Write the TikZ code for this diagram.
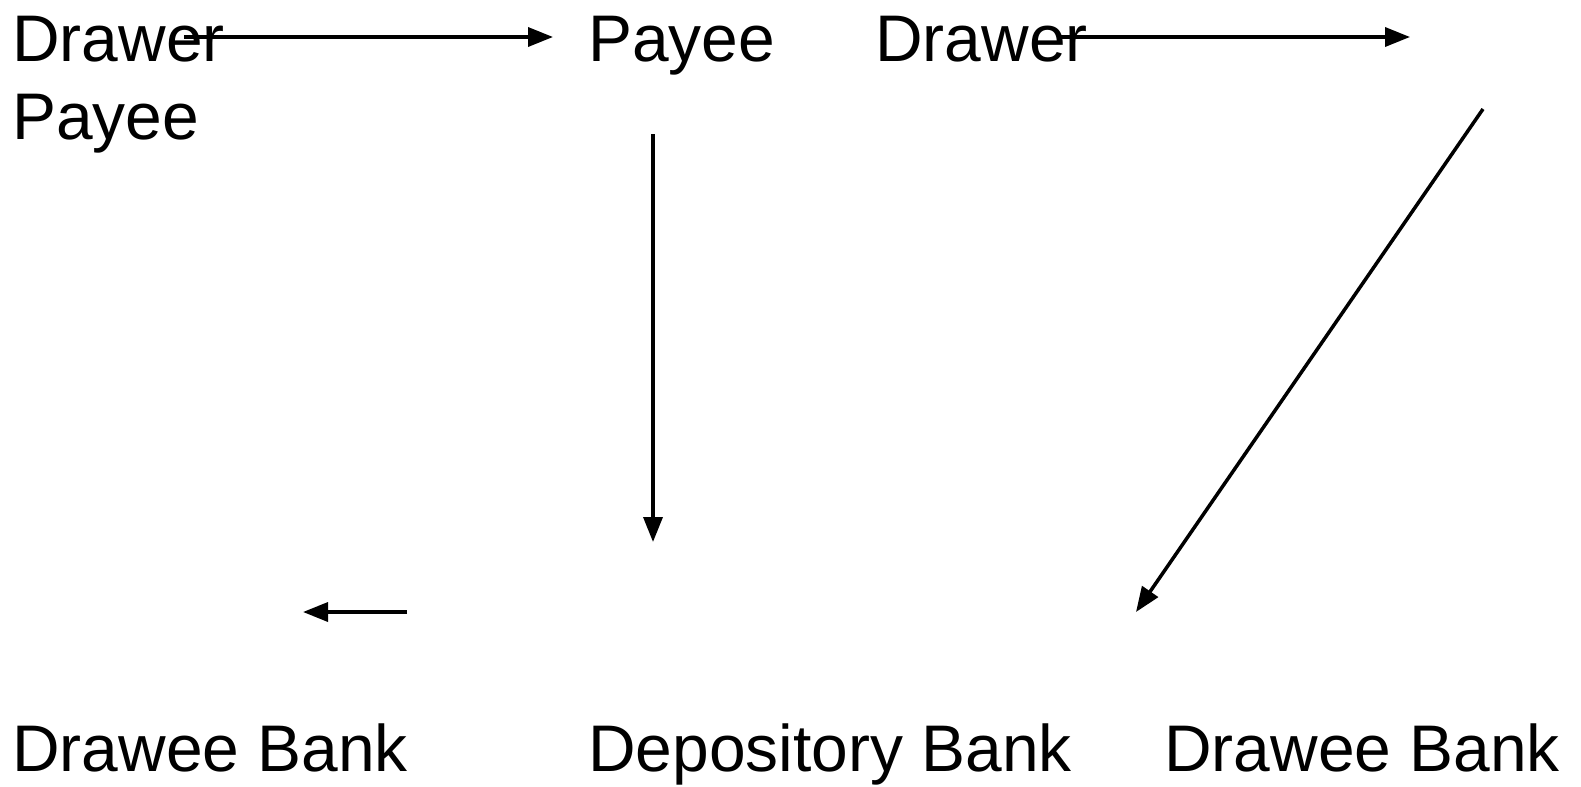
\documentclass[tikz,border=0pt]{standalone}
\usepackage{fontspec}
\setmainfont{Liberation Sans}
\usepackage{tikz}
\usetikzlibrary{arrows.meta}
\tikzset{
  party/.style={inner sep=0pt,anchor=base west,font=\fontsize{37.5}{45}\selectfont},
  flow/.style={-{Triangle[length=5mm,width=3.8mm]},line width=2pt,draw=black}
}
\begin{document}
\begin{tikzpicture}[x=0.2mm,y=-0.2mm]
\useasboundingbox (0,0) rectangle (1581,786);
% parties, top row
\node[party] (drawerA) at (12,61) {Drawer};
\node[party] (payeeA) at (12,139) {Payee};
\node[party] (payeeB) at (588,61) {Payee};
\node[party] (drawerB) at (875,61) {Drawer};
% banks, bottom row
\node[party] (draweeA) at (12,771) {Drawee Bank};
\node[party] (depository) at (588,771) {Depository Bank};
\node[party] (draweeB) at (1164,771) {Drawee Bank};
% arrow ends
\coordinate (a1s) at (184,37);
\coordinate (a1e) at (553,37);
\coordinate (a2s) at (1059,37);
\coordinate (a2e) at (1410,37);
\coordinate (a3s) at (653,134);
\coordinate (a3e) at (653,542);
\coordinate (a4s) at (1483,109);
\coordinate (a4e) at (1136,612);
\coordinate (a5s) at (407,612);
\coordinate (a5e) at (303,612);
\draw[flow] (a1s) -- (a1e);
\draw[flow] (a2s) -- (a2e);
\draw[flow] (a3s) -- (a3e);
\draw[flow] (a4s) -- (a4e);
\draw[flow] (a5s) -- (a5e);
\end{tikzpicture}
\end{document}
